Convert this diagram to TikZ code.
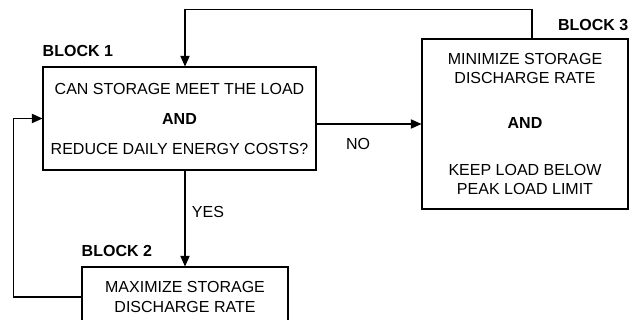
\documentclass[tikz,border=0pt]{standalone}
\usepackage{fontspec}
\setmainfont{Liberation Sans}
\usetikzlibrary{arrows.meta}

\tikzstyle{block} = [rectangle, draw=black, line width=0.8pt, align=center, inner sep=0pt, font=\fontsize{12}{14.25}\selectfont]
\tikzstyle{blocktitle} = [inner sep=0pt, font=\bfseries\fontsize{12}{14}\selectfont]
\tikzstyle{answer} = [inner sep=0pt, font=\fontsize{12}{14}\selectfont]
\tikzstyle{arrow} = [line width=0.8pt, -{Triangle[length=8pt,width=7pt]}]

\begin{document}
\begin{tikzpicture}[x=0.75pt, y=-0.75pt]
\useasboundingbox (0,0) rectangle (631,320);

\node (blk1) [block, minimum width=204.75pt, minimum height=77.25pt, font=\fontsize{12}{22.5}\selectfont] at (179.5,118.5)
  {CAN STORAGE MEET THE LOAD\\ \textbf{AND}\\ REDUCE DAILY ENERGY COSTS?};
\node (blk2) [block, minimum width=154.5pt, minimum height=45pt, font=\fontsize{12}{15}\selectfont] at (185,297)
  {MAXIMIZE STORAGE\\ DISCHARGE RATE};
\node (blk3) [block, minimum width=154.5pt, minimum height=127.5pt] at (525,124)
  {MINIMIZE STORAGE\\ DISCHARGE RATE\\[20pt] \textbf{AND}\\[21pt] KEEP LOAD BELOW\\ PEAK LOAD LIMIT};

\node (title1) [blocktitle, anchor=south west] at ([yshift=7.5pt]blk1.north west) {BLOCK 1};
\node (title2) [blocktitle, anchor=south west] at ([yshift=7.5pt]blk2.north west) {BLOCK 2};
\node (title3) [blocktitle, anchor=south east] at ([yshift=6pt]blk3.north east) {BLOCK 3};

\node (no) [answer] at (358,144) {NO};
\node (yes) [answer] at (208,212) {YES};

\draw [arrow] (blk1.east |- blk3.west) -- (blk3.west);
\draw [arrow] (blk2.north |- blk1.south) -- (blk2.north);
\draw [arrow] ([xshift=5.25pt]blk3.north) -- ++(0,-29) -| (blk2.north |- blk1.north);
\draw [arrow] (blk2.west) -- ++(-68,0) |- (blk1.west);

\end{tikzpicture}
\end{document}
